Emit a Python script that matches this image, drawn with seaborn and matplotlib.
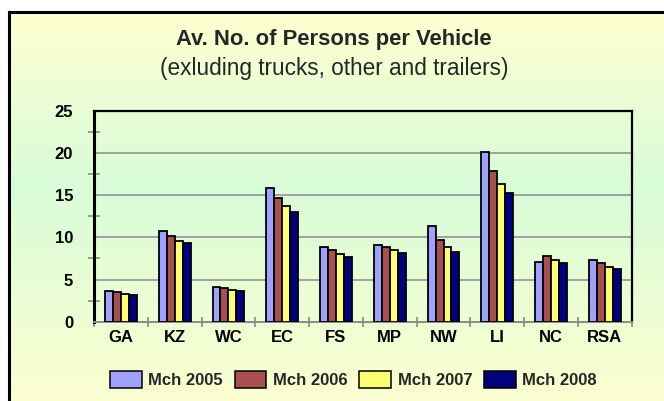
import numpy as np
import pandas as pd
import matplotlib
matplotlib.use("Agg")
import matplotlib.pyplot as plt
from matplotlib.colors import LinearSegmentedColormap
from matplotlib.patches import Patch
import seaborn as sns

regions = ["GA", "KZ", "WC", "EC", "FS", "MP", "NW", "LI", "NC", "RSA"]
years = ["Mch 2005", "Mch 2006", "Mch 2007", "Mch 2008"]
mch2005 = [3.63, 10.7, 4.15, 15.9, 8.9, 9.05, 11.3, 20.1, 7.1, 7.35]
mch2006 = [3.5, 10.2, 3.95, 14.6, 8.45, 8.9, 9.7, 17.85, 7.75, 6.9]
mch2007 = [3.3, 9.6, 3.8, 13.7, 8.05, 8.5, 8.9, 16.3, 7.35, 6.5]
mch2008 = [3.2, 9.3, 3.67, 13.0, 7.7, 8.1, 8.3, 15.3, 6.95, 6.25]
colors = ["#A0A0FF", "#A85050", "#FFFF70", "#000080"]
yticks = [0, 5, 10, 15, 20, 25]

series = [mch2005, mch2006, mch2007, mch2008]
df = pd.DataFrame({
    "region": np.repeat([regions], 4, axis=0).ravel(),
    "year": np.repeat(years, len(regions)),
    "value": np.concatenate(series),
})

sns.set_theme(style="white")
plt.rcParams["font.family"] = ["Liberation Sans", "DejaVu Sans"]

W, H = 664, 401
fig = plt.figure(figsize=(W / 100, H / 100), dpi=100)
fig.patch.set_facecolor("white")

# background gradient inside frame
bg = fig.add_axes([0, 0, 1, 1], zorder=-10)
bg.set_xlim(0, W)
bg.set_ylim(H, 0)
bg.axis("off")
cmap = LinearSegmentedColormap.from_list(
    "g", [(0, "#FFFFD0"), (0.45, "#D8FCD8"), (1.0, "#FBFFD0")])
grad = np.linspace(0, 1, 256).reshape(-1, 1)
bg.imshow(grad, cmap=cmap, aspect="auto", extent=[9, W, H, 12], zorder=0)
bg.plot([9, 9], [12, H], color="black", lw=2.2, solid_capstyle="projecting")
bg.plot([9, W], [12, 12], color="black", lw=2.2, solid_capstyle="projecting")

left, right = 94 / W, 631.7 / W
bottom, top = (H - 321.7) / H, (H - 110.7) / H
ax = fig.add_axes([left, bottom, right - left, top - bottom])
ax.set_facecolor("none")

sns.barplot(data=df, x="region", y="value", hue="year", palette=colors,
            width=0.59, edgecolor="black", linewidth=1.3, ax=ax,
            saturation=1, legend=False, zorder=3)

ax.set_xlim(-0.5, 9.5)
ax.set_ylim(0, 25)
ax.set_yticks(yticks)
ax.set_yticks(np.arange(2.5, 25, 5), minor=True)
ax.set_xticks(np.arange(-0.5, 10, 1), minor=True)
ax.set_xlabel("")
ax.set_ylabel("")
for y in yticks[1:-1]:
    ax.axhline(y, color="#939393", lw=1.2, zorder=1)

ax.tick_params(axis="y", which="major", direction="out", length=8, width=1.2,
               color="#8C8C8C", pad=7, labelsize=12)
ax.tick_params(axis="y", which="minor", direction="inout", length=8, width=1.2,
               color="#8C8C8C", left=True)
ax.tick_params(axis="x", which="major", length=0, pad=6, labelsize=12)
ax.tick_params(axis="x", which="minor", direction="inout", length=7, width=1.2,
               color="#8C8C8C", bottom=True)
for lab in ax.get_xticklabels() + ax.get_yticklabels():
    lab.set_fontweight("bold")
    lab.set_color("black")

for s in ["left", "top", "right"]:
    ax.spines[s].set_color("black")
    ax.spines[s].set_linewidth(1.6)
ax.spines["bottom"].set_color("#8C8C8C")
ax.spines["bottom"].set_linewidth(1.4)
ax.spines["left"].set_linewidth(2.2)

fig.text(334 / W, 1 - 39.5 / H, "Av. No. of Persons per Vehicle", ha="center",
         va="center", fontsize=15.8, fontweight="bold")
fig.text(334 / W, 1 - 69 / H, "(exluding trucks, other and trailers)", ha="center",
         va="center", fontsize=16.3)

handles = [Patch(facecolor=c, edgecolor="black", linewidth=1.1) for c in colors]
fig.legend(handles, years, loc="center", bbox_to_anchor=(353.5 / W, 1 - 379.5 / H),
           ncol=4, frameon=False, prop={"weight": "bold", "size": 12},
           handlelength=1.9, handleheight=1.25, handletextpad=0.4,
           columnspacing=0.7, borderaxespad=0)

fig.savefig("out.png", dpi=100)
